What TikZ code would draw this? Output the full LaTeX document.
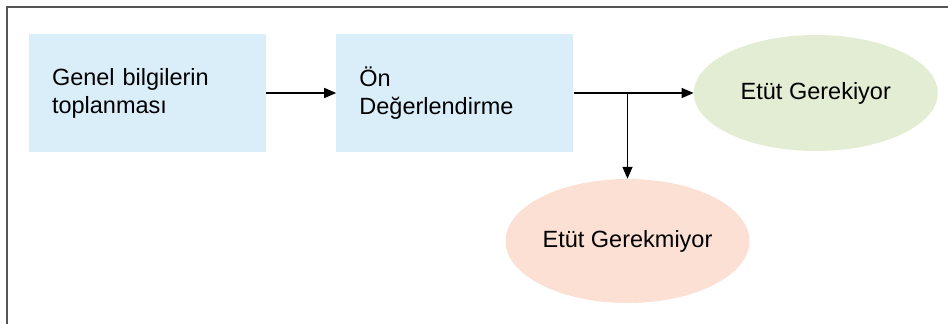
\documentclass[tikz,border=0pt]{standalone}
\usepackage{fontspec}
\setmainfont{Liberation Sans}
\usepackage{tikz}
\usetikzlibrary{positioning,arrows.meta,shapes.geometric}
\definecolor{boxblue}{RGB}{218,238,250}
\definecolor{okgreen}{RGB}{226,237,211}
\definecolor{nopink}{RGB}{252,224,212}
\definecolor{framegray}{RGB}{85,85,85}
\tikzset{
  stepbox/.style={rectangle, fill=boxblue, minimum width=237pt, minimum height=118pt,
                  text width=191pt, inner xsep=23pt, align=left,
                  font=\fontsize{23.5}{28}\selectfont},
  result/.style={ellipse, minimum width=244pt, inner sep=0pt,
                 font=\fontsize{23.5}{28}\selectfont},
  fwd/.style={-{Triangle[length=12pt,width=10pt]}, line width=1.4pt},
  lightgreen/.style={fill=okgreen, minimum height=116pt},
  lightpink/.style={fill=nopink, minimum height=124pt},
  frameline/.style={draw=framegray, line width=2pt},
}

\begin{document}
\begin{tikzpicture}[x=1pt, y=1pt]
  \useasboundingbox (0,0) rectangle (948,-324);
  \draw[frameline] (948,-6.5) -- (6.5,-6.5) -- (6.5,-324); % open frame

  \node[stepbox] (node1) at (147.5,-93) {Genel bilgilerin\\toplanması};
  \node[stepbox] (node2) [right=70pt of node1] {Ön\\Değerlendirme};
  \node[result, lightgreen] (node3) [right=120pt of node2] {Etüt Gerekiyor};
  \node[result, lightpink] (node4) at (627.5,-241) {Etüt Gerekmiyor};
  \coordinate (split) at (node4.north |- node2.east);

  \draw[fwd] (node1.east) -- (node2.west);
  \draw[fwd] (node2.east) -- (node3.west);
  \draw[fwd] (split) -- (node4.north);
\end{tikzpicture}
\end{document}
